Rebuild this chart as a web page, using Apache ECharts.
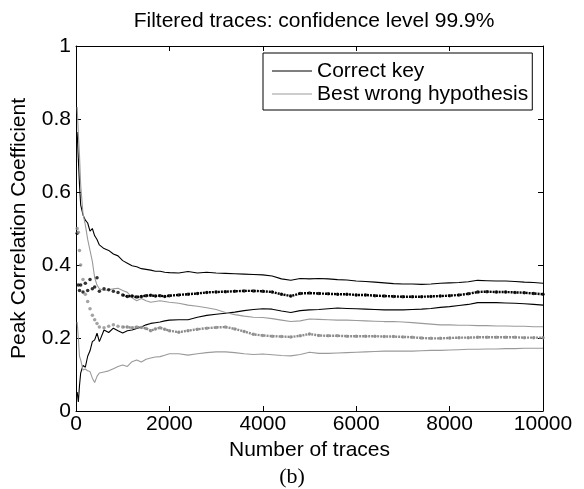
<!DOCTYPE html>
<html>
<head>
<meta charset="utf-8">
<script src="https://cdn.jsdelivr.net/npm/echarts@6/dist/echarts.min.js"></script>
<style>
  html, body { margin: 0; padding: 0; background: #fff; }
  #chart { width: 584px; height: 489px; }
</style>
</head>
<body>
<div id="chart"></div>
<script>
// number of traces
const traces = [25, 50, 75, 100, 150, 200, 250, 300, 350, 400, 450, 500, 600, 700, 800, 900, 1000,
  1100, 1200, 1300, 1400, 1500, 1600, 1700, 1800, 1900, 2000,
  2200, 2400, 2600, 2800, 3000, 3200, 3400, 3600, 3800, 4000, 4200, 4400, 4600, 4800, 5000,
  5200, 5400, 5600, 5800, 6000, 6200, 6400, 6600, 6800, 7000, 7200, 7400, 7600, 7800, 8000,
  8200, 8400, 8600, 8800, 9000, 9200, 9400, 9600, 9800, 10000];

// correct key: upper bound, mean, lower bound
const correctUpper = [0.764, 0.69, 0.62, 0.565, 0.537, 0.523, 0.515, 0.493, 0.50, 0.48, 0.47, 0.455, 0.445, 0.44, 0.43, 0.425, 0.412,
  0.405, 0.398, 0.395, 0.39, 0.388, 0.386, 0.383, 0.383, 0.38, 0.379,
  0.378, 0.382, 0.378, 0.38, 0.378, 0.377, 0.376, 0.375, 0.374, 0.373, 0.37, 0.362, 0.358, 0.363, 0.362,
  0.363, 0.362, 0.36, 0.359, 0.356, 0.355, 0.353, 0.351, 0.349, 0.348, 0.348, 0.347, 0.348, 0.35, 0.351,
  0.352, 0.354, 0.358, 0.357, 0.356, 0.356, 0.355, 0.353, 0.352, 0.35];
const correctMean = [0.487, 0.345, 0.33, 0.345, 0.326, 0.35, 0.33, 0.36, 0.335, 0.34, 0.365, 0.328, 0.335, 0.332, 0.328, 0.325, 0.318,
  0.314, 0.315, 0.312, 0.314, 0.316, 0.317, 0.315, 0.316, 0.314, 0.316,
  0.318, 0.32, 0.322, 0.325, 0.326, 0.327, 0.328, 0.329, 0.329, 0.328, 0.326, 0.32, 0.315, 0.322, 0.323,
  0.322, 0.321, 0.32, 0.32, 0.318, 0.318, 0.316, 0.315, 0.314, 0.313, 0.313, 0.313, 0.314, 0.315, 0.316,
  0.318, 0.321, 0.326, 0.327, 0.326, 0.326, 0.325, 0.324, 0.322, 0.32];
const correctLower = [0.052, 0.025, 0.07, 0.104, 0.125, 0.12, 0.15, 0.165, 0.19, 0.195, 0.213, 0.19, 0.222, 0.215, 0.227, 0.22, 0.214,
  0.22, 0.222, 0.226, 0.23, 0.236, 0.24, 0.242, 0.244, 0.247, 0.249,
  0.25, 0.25, 0.257, 0.262, 0.265, 0.268, 0.271, 0.275, 0.278, 0.28, 0.279, 0.274, 0.27, 0.275, 0.277,
  0.278, 0.28, 0.282, 0.281, 0.28, 0.279, 0.278, 0.277, 0.277, 0.277, 0.278, 0.279, 0.281, 0.284, 0.286,
  0.289, 0.292, 0.297, 0.297, 0.297, 0.296, 0.295, 0.294, 0.292, 0.29];

// best wrong hypothesis: upper bound, mean, lower bound
const wrongUpper = [0.833, 0.76, 0.70, 0.62, 0.54, 0.51, 0.47, 0.44, 0.41, 0.365, 0.345, 0.335, 0.33, 0.332, 0.335, 0.336, 0.33,
  0.325, 0.31, 0.302, 0.308, 0.302, 0.298, 0.3, 0.302, 0.3, 0.298,
  0.295, 0.29, 0.287, 0.283, 0.278, 0.27, 0.264, 0.26, 0.257, 0.256, 0.253, 0.249, 0.245, 0.247, 0.252,
  0.251, 0.25, 0.249, 0.249, 0.248, 0.247, 0.246, 0.245, 0.245, 0.244, 0.242, 0.24, 0.238, 0.236, 0.236,
  0.235, 0.235, 0.234, 0.234, 0.233, 0.233, 0.232, 0.232, 0.231, 0.231];
const wrongMean = [0.50, 0.49, 0.44, 0.40, 0.36, 0.32, 0.30, 0.28, 0.262, 0.25, 0.24, 0.23, 0.228, 0.232, 0.236, 0.232, 0.23,
  0.23, 0.228, 0.23, 0.229, 0.226, 0.22, 0.225, 0.228, 0.224, 0.22,
  0.216, 0.22, 0.224, 0.227, 0.229, 0.23, 0.225, 0.218, 0.21, 0.207, 0.205, 0.204, 0.203, 0.206, 0.211,
  0.207, 0.206, 0.206, 0.205, 0.205, 0.205, 0.205, 0.204, 0.204, 0.203, 0.202, 0.2, 0.199, 0.199, 0.2,
  0.201, 0.201, 0.202, 0.202, 0.202, 0.202, 0.202, 0.201, 0.201, 0.201];
const wrongLower = [0.244, 0.20, 0.15, 0.14, 0.112, 0.115, 0.11, 0.108, 0.09, 0.078, 0.095, 0.104, 0.107, 0.11, 0.116, 0.122, 0.126,
  0.122, 0.135, 0.14, 0.134, 0.142, 0.145, 0.148, 0.149, 0.153, 0.157,
  0.157, 0.153, 0.157, 0.16, 0.162, 0.162, 0.16, 0.157, 0.155, 0.156, 0.154, 0.152, 0.151, 0.155, 0.161,
  0.158, 0.158, 0.159, 0.16, 0.161, 0.162, 0.163, 0.164, 0.164, 0.164, 0.164, 0.165, 0.166, 0.166, 0.167,
  0.168, 0.169, 0.169, 0.17, 0.17, 0.171, 0.171, 0.172, 0.172, 0.172];

const xTicks = [0, 2000, 4000, 6000, 8000, 10000];
const yTicks = [0, 0.2, 0.4, 0.6, 0.8, 1];

const FONT = '"Liberation Sans", Arial, Helvetica, sans-serif';
const BLACK = '#000';
const GRAY = '#9a9a9a';

const pairs = (vals) => traces.map((t, i) => [t, vals[i]]);
// the mean is drawn as a beaded line once it settles (from 1000 traces on)
const settled = (vals) => pairs(vals).filter(p => p[0] >= 1000);

const chart = echarts.init(document.getElementById('chart'));

const boundLine = (name, vals, color) => ({
  name: name, type: 'line', data: pairs(vals), showSymbol: false, silent: true,
  color: color, lineStyle: { color: color, width: 1.1 }, z: 3
});

const option = {
  animation: false,
  backgroundColor: '#fff',
  title: {
    text: 'Filtered traces: confidence level 99.9%',
    left: 309, top: 6, textAlign: 'center',
    textStyle: { fontFamily: FONT, fontSize: 21, fontWeight: 'normal', color: BLACK }
  },
  legend: {
    data: [
      { name: 'Correct key', icon: 'rect' },
      { name: 'Best wrong hypothesis', icon: 'rect' }
    ],
    orient: 'vertical', left: 263, top: 53,
    itemWidth: 40, itemHeight: 1, itemGap: 1,
    padding: [7, 4, 5, 9],
    borderColor: BLACK, borderWidth: 1, backgroundColor: '#fff',
    textStyle: { fontFamily: FONT, fontSize: 21, color: BLACK, lineHeight: 22 }
  },
  grid: { left: 76, right: 41, top: 46, bottom: 78 },
  xAxis: [{
    type: 'value', min: xTicks[0], max: xTicks[xTicks.length - 1], interval: 2000,
    name: 'Number of traces', nameLocation: 'middle', nameGap: 28,
    nameTextStyle: { fontFamily: FONT, fontSize: 21, color: BLACK },
    axisLine: { show: true, lineStyle: { color: BLACK, width: 1 } },
    axisTick: { show: true, inside: true, length: 5, lineStyle: { color: BLACK } },
    axisLabel: { fontFamily: FONT, fontSize: 21, color: BLACK, margin: 3,
      formatter: v => String(v) },
    splitLine: { show: false }
  }, {
    type: 'value', position: 'top', min: xTicks[0], max: xTicks[xTicks.length - 1], interval: 2000,
    axisLine: { show: true, onZero: false, lineStyle: { color: BLACK, width: 1 } },
    axisTick: { show: true, inside: true, length: 5, lineStyle: { color: BLACK } },
    axisLabel: { show: false }, splitLine: { show: false }
  }],
  yAxis: [{
    type: 'value', min: yTicks[0], max: yTicks[yTicks.length - 1], interval: 0.2,
    name: 'Peak Correlation Coefficient', nameLocation: 'middle', nameGap: 46,
    nameTextStyle: { fontFamily: FONT, fontSize: 21, color: BLACK },
    axisLine: { show: true, lineStyle: { color: BLACK, width: 1 } },
    axisTick: { show: true, inside: true, length: 5, lineStyle: { color: BLACK } },
    axisLabel: { fontFamily: FONT, fontSize: 21, color: BLACK, margin: 5,
      formatter: v => String(parseFloat(v.toFixed(1))) },
    splitLine: { show: false }
  }, {
    type: 'value', position: 'right', min: yTicks[0], max: yTicks[yTicks.length - 1], interval: 0.2,
    axisLine: { show: true, onZero: false, lineStyle: { color: BLACK, width: 1 } },
    axisTick: { show: true, inside: true, length: 5, lineStyle: { color: BLACK } },
    axisLabel: { show: false }, splitLine: { show: false }
  }],
  graphic: [{
    type: 'text', left: 'center', top: 466,
    style: { text: '(b)', font: '22px "Liberation Serif", "DejaVu Serif", serif', fill: BLACK }
  }],
  series: [
    boundLine('Correct key', correctUpper, BLACK),
    boundLine('correct lower', correctLower, BLACK),
    boundLine('Best wrong hypothesis', wrongUpper, GRAY),
    boundLine('wrong lower', wrongLower, GRAY),
    {
      name: 'correct mean dots', type: 'scatter', data: pairs(correctMean), silent: true,
      symbolSize: 3.5, itemStyle: { color: BLACK }, z: 4
    },
    {
      name: 'correct mean', type: 'line', data: settled(correctMean), showSymbol: false, silent: true,
      lineStyle: { color: BLACK, width: 2.4, type: [2, 1] }, z: 4
    },
    {
      name: 'wrong mean dots', type: 'scatter', data: pairs(wrongMean), silent: true,
      symbolSize: 3.5, itemStyle: { color: '#8c8c8c' }, z: 4
    },
    {
      name: 'wrong mean', type: 'line', data: settled(wrongMean), showSymbol: false, silent: true,
      lineStyle: { color: '#8c8c8c', width: 2.4, type: [2, 1] }, z: 4
    }
  ]
};

chart.setOption(option);
</script>
</body>
</html>
